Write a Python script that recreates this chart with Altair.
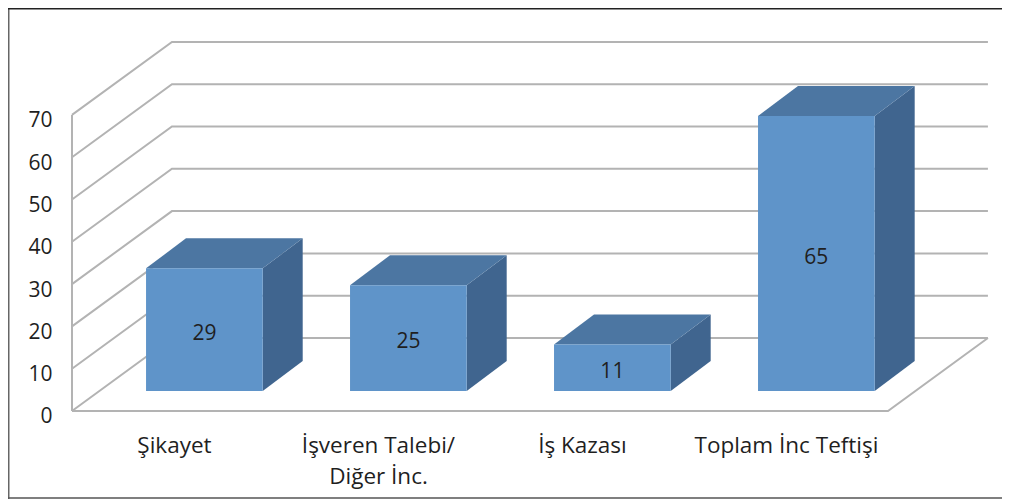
import altair as alt
import pandas as pd

categories = ["Şikayet", "İşveren Talebi/", "İş Kazası", "Toplam İnc Teftişi"]
values = [29, 25, 11, 65]
ticks = [0, 10, 20, 30, 40, 50, 60, 70]

# Oblique projection, in scale units: x in category slots, y in chart values
WALL_DX, WALL_DY = 0.49, 17.26
BAR_DX, BAR_DY = 0.196, 7.09
BAR_BASE = 4.73
BAR_START, BAR_WIDTH = 0.363, 0.572
FONT = "Open Sans"
TEXT = "#1f1f1f"
GRID = "#b3b3b3"

xs = alt.Scale(domain=[-0.3137, 4.559], range=[0, 994], zero=False, nice=False)
ys = alt.Scale(domain=[-21.04, 95.27], range=[492, 0], zero=False, nice=False)

grid_rows = []
for t in ticks:
    grid_rows += [
        {"k": t, "o": 0, "x": 0, "y": t},
        {"k": t, "o": 1, "x": WALL_DX, "y": t + WALL_DY},
        {"k": t, "o": 2, "x": 4 + WALL_DX, "y": t + WALL_DY},
    ]
grid_rows += [
    {"k": -1, "o": 0, "x": 0, "y": 0},
    {"k": -1, "o": 1, "x": 4, "y": 0},
    {"k": -1, "o": 2, "x": 4 + WALL_DX, "y": WALL_DY},
    {"k": -2, "o": 0, "x": 0, "y": 0},
    {"k": -2, "o": 1, "x": 0, "y": ticks[-1]},
]
grid = pd.DataFrame(grid_rows)

front, side, top, labels = [], [], [], []
for i, v in enumerate(values):
    l = i + BAR_START
    r = l + BAR_WIDTH
    b = BAR_BASE
    t = b + v
    front.append({"x": l, "x2": r, "y": b, "y2": t})
    side += [
        {"k": i, "x": r, "y": b, "y2": t},
        {"k": i, "x": r + BAR_DX, "y": b + BAR_DY, "y2": t + BAR_DY},
    ]
    top += [
        {"k": i, "y": t, "x": l, "x2": r},
        {"k": i, "y": t + BAR_DY, "x": l + BAR_DX, "x2": r + BAR_DX},
    ]
    labels.append({"x": (l + r) / 2, "y": b + v / 2, "v": v})

label_expr = (
    "[['Şikayet'], ['İşveren Talebi/', 'Diğer İnc.'], ['İş Kazası'], "
    "['Toplam İnc Teftişi']][round(datum.value - 0.5)]"
)

x_axis = alt.Axis(
    values=[0.5, 1.5, 2.5, 3.5], labelExpr=label_expr, title=None, domain=False,
    ticks=False, grid=False, offset=-66, labelPadding=0, labelFont=FONT,
    labelFontSize=22.5, labelColor=TEXT, labelAngle=0, labelAlign="center",
    labelLineHeight=31, labelFlush=False, labelOverlap=False, labelLimit=400,
)
y_axis = alt.Axis(
    values=ticks, title=None, domain=False, ticks=False, grid=False, offset=-44,
    labelPadding=0, labelFont=FONT, labelFontSize=21, labelColor=TEXT,
    labelOffset=6, labelFlush=False, labelOverlap=False,
)
X = alt.X("x:Q", scale=xs, axis=x_axis)
Y = alt.Y("y:Q", scale=ys, axis=y_axis)

gridlines = alt.Chart(grid).mark_line(color=GRID, strokeWidth=2).encode(
    x=X, y=Y, detail="k:N", order="o:Q",
)
front_l = alt.Chart(pd.DataFrame(front)).mark_rect(color="#5f94c9").encode(
    x=X, x2="x2:Q", y=Y, y2="y2:Q",
)
side_l = alt.Chart(pd.DataFrame(side)).mark_area(color="#40658f").encode(
    x=X, y=Y, y2="y2:Q", detail="k:N",
)
top_l = alt.Chart(pd.DataFrame(top)).mark_area(color="#4c76a2", orient="horizontal").encode(
    y=Y, x=X, x2="x2:Q", detail="k:N",
)
text_l = alt.Chart(pd.DataFrame(labels)).mark_text(
    font=FONT, fontSize=21, color=TEXT, dy=4
).encode(x=X, y=Y, text="v:Q")

frame_left = alt.Chart(pd.DataFrame({"a": [0]})).mark_rule(color="#666666", strokeWidth=1.5).encode(
    x=alt.value(0.75), y=alt.value(0), y2=alt.value(491))
frame_bottom = alt.Chart(pd.DataFrame({"a": [0]})).mark_rule(color="#555555", strokeWidth=1.5).encode(
    x=alt.value(0), x2=alt.value(994), y=alt.value(490))
frame_top = alt.Chart(pd.DataFrame({"a": [0]})).mark_rule(color="#222222", strokeWidth=1.5).encode(
    x=alt.value(0), x2=alt.value(994), y=alt.value(0.75))

chart = alt.layer(
    gridlines, side_l, top_l, front_l, text_l, frame_left, frame_bottom, frame_top
).properties(
    width=994, height=492, padding=0, background="white",
    autosize=alt.AutoSizeParams(type="none"),
).configure_view(stroke=None)

chart.save("out.html", embed_options={"renderer": "svg", "actions": False})
